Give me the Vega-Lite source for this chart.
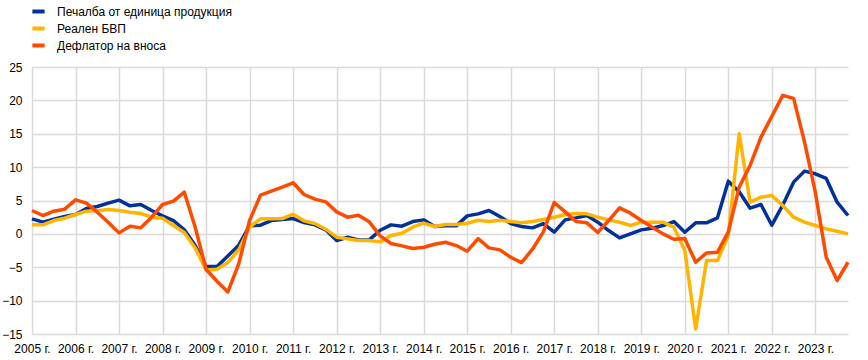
{
  "$schema": "https://vega.github.io/schema/vega-lite/v6.json",
  "width": 816,
  "height": 267,
  "autosize": {"type": "none"},
  "padding": {"left": 32, "top": 67, "right": 20, "bottom": 26},
  "background": "white",
  "config": {
    "view": {"stroke": null},
    "font": "Liberation Sans",
    "axis": {"labelFont": "Liberation Sans", "labelFontSize": 12, "labelColor": "#000000", "gridColor": "#d9d9d9", "gridWidth": 1.5, "ticks": false, "domain": false, "title": null}
  },
  "data": {
    "values": [
      {"t": 2005.00, "b": 2.25, "y": 1.35, "o": 3.5},
      {"t": 2005.25, "b": 1.75, "y": 1.35, "o": 2.75},
      {"t": 2005.50, "b": 2.2, "y": 2.0, "o": 3.4},
      {"t": 2005.75, "b": 2.6, "y": 2.35, "o": 3.7},
      {"t": 2006.00, "b": 2.9, "y": 2.9, "o": 5.1},
      {"t": 2006.25, "b": 3.8, "y": 3.4, "o": 4.6},
      {"t": 2006.50, "b": 4.1, "y": 3.45, "o": 3.25},
      {"t": 2006.75, "b": 4.6, "y": 3.65, "o": 1.75},
      {"t": 2007.00, "b": 5.05, "y": 3.5, "o": 0.15},
      {"t": 2007.25, "b": 4.2, "y": 3.25, "o": 1.15},
      {"t": 2007.50, "b": 4.4, "y": 3.05, "o": 0.9},
      {"t": 2007.75, "b": 3.5, "y": 2.5, "o": 2.5},
      {"t": 2008.00, "b": 2.7, "y": 2.35, "o": 4.4},
      {"t": 2008.25, "b": 2.0, "y": 1.25, "o": 4.9},
      {"t": 2008.50, "b": 0.6, "y": 0.2, "o": 6.25},
      {"t": 2008.75, "b": -1.75, "y": -2.1, "o": 1.0},
      {"t": 2009.00, "b": -4.9, "y": -5.4, "o": -5.3},
      {"t": 2009.25, "b": -4.9, "y": -5.3, "o": -7.1},
      {"t": 2009.50, "b": -3.3, "y": -4.3, "o": -8.7},
      {"t": 2009.75, "b": -1.7, "y": -2.4, "o": -4.5},
      {"t": 2010.00, "b": 1.2, "y": 1.0, "o": 2.0},
      {"t": 2010.25, "b": 1.3, "y": 2.25, "o": 5.8},
      {"t": 2010.50, "b": 2.0, "y": 2.25, "o": 6.4},
      {"t": 2010.75, "b": 2.15, "y": 2.3, "o": 7.0},
      {"t": 2011.00, "b": 2.3, "y": 2.95, "o": 7.65},
      {"t": 2011.25, "b": 1.7, "y": 1.95, "o": 5.9},
      {"t": 2011.50, "b": 1.35, "y": 1.55, "o": 5.2},
      {"t": 2011.75, "b": 0.6, "y": 0.7, "o": 4.8},
      {"t": 2012.00, "b": -1.0, "y": -0.5, "o": 3.3},
      {"t": 2012.25, "b": -0.5, "y": -0.75, "o": 2.5},
      {"t": 2012.50, "b": -0.9, "y": -1.0, "o": 2.8},
      {"t": 2012.75, "b": -0.9, "y": -1.0, "o": 1.8},
      {"t": 2013.00, "b": 0.55, "y": -1.2, "o": -0.3},
      {"t": 2013.25, "b": 1.35, "y": -0.25, "o": -1.45},
      {"t": 2013.50, "b": 1.15, "y": 0.1, "o": -1.8},
      {"t": 2013.75, "b": 1.85, "y": 1.0, "o": -2.2},
      {"t": 2014.00, "b": 2.1, "y": 1.6, "o": -2.0},
      {"t": 2014.25, "b": 1.1, "y": 1.1, "o": -1.55},
      {"t": 2014.50, "b": 1.2, "y": 1.4, "o": -1.25},
      {"t": 2014.75, "b": 1.2, "y": 1.4, "o": -1.75},
      {"t": 2015.00, "b": 2.7, "y": 1.6, "o": -2.6},
      {"t": 2015.25, "b": 3.0, "y": 2.05, "o": -0.7},
      {"t": 2015.50, "b": 3.5, "y": 1.85, "o": -2.1},
      {"t": 2015.75, "b": 2.6, "y": 2.05, "o": -2.4},
      {"t": 2016.00, "b": 1.55, "y": 1.85, "o": -3.5},
      {"t": 2016.25, "b": 1.1, "y": 1.65, "o": -4.3},
      {"t": 2016.50, "b": 0.9, "y": 1.85, "o": -2.3},
      {"t": 2016.75, "b": 1.55, "y": 2.15, "o": 0.3},
      {"t": 2017.00, "b": 0.25, "y": 2.5, "o": 4.7},
      {"t": 2017.25, "b": 2.1, "y": 2.9, "o": 3.3},
      {"t": 2017.50, "b": 2.4, "y": 3.05, "o": 1.85},
      {"t": 2017.75, "b": 2.75, "y": 3.0, "o": 1.65},
      {"t": 2018.00, "b": 1.75, "y": 2.5, "o": 0.2},
      {"t": 2018.25, "b": 0.5, "y": 2.1, "o": 2.0},
      {"t": 2018.50, "b": -0.6, "y": 1.75, "o": 3.9},
      {"t": 2018.75, "b": 0.0, "y": 1.25, "o": 3.1},
      {"t": 2019.00, "b": 0.6, "y": 1.75, "o": 2.0},
      {"t": 2019.25, "b": 0.85, "y": 1.75, "o": 1.0},
      {"t": 2019.50, "b": 1.25, "y": 1.75, "o": 0.0},
      {"t": 2019.75, "b": 1.85, "y": 1.0, "o": -0.8},
      {"t": 2020.00, "b": 0.25, "y": -2.5, "o": -0.7},
      {"t": 2020.25, "b": 1.65, "y": -14.25, "o": -4.25},
      {"t": 2020.50, "b": 1.65, "y": -4.0, "o": -2.85},
      {"t": 2020.75, "b": 2.4, "y": -4.0, "o": -2.75},
      {"t": 2021.00, "b": 7.9, "y": -0.25, "o": 0.3},
      {"t": 2021.25, "b": 6.3, "y": 15.0, "o": 7.0},
      {"t": 2021.50, "b": 3.85, "y": 4.75, "o": 10.25},
      {"t": 2021.75, "b": 4.4, "y": 5.5, "o": 14.5},
      {"t": 2022.00, "b": 1.3, "y": 5.75, "o": 17.6},
      {"t": 2022.25, "b": 4.3, "y": 4.25, "o": 20.75},
      {"t": 2022.50, "b": 7.75, "y": 2.5, "o": 20.3},
      {"t": 2022.75, "b": 9.4, "y": 1.75, "o": 13.8},
      {"t": 2023.00, "b": 9.0, "y": 1.25, "o": 6.2},
      {"t": 2023.25, "b": 8.3, "y": 0.75, "o": -3.5},
      {"t": 2023.50, "b": 4.75, "y": 0.4, "o": -7.0},
      {"t": 2023.75, "b": 2.75, "y": 0.0, "o": -4.25}
    ]
  },
  "transform": [
    {"fold": ["b", "y", "o"], "as": ["key", "value"]},
    {"lookup": "key", "from": {"data": {"values": [
      {"key": "b", "series": "Печалба от единица продукция"},
      {"key": "y", "series": "Реален БВП"},
      {"key": "o", "series": "Дефлатор на вноса"}
    ]}, "key": "key", "fields": ["series"]}}
  ],
  "mark": {"type": "line", "strokeWidth": 3.5, "strokeJoin": "round"},
  "encoding": {
    "x": {
      "field": "t", "type": "quantitative",
      "scale": {"domain": [2005, 2023.75], "nice": false, "zero": false},
      "axis": {"values": [2005,2006,2007,2008,2009,2010,2011,2012,2013,2014,2015,2016,2017,2018,2019,2020,2021,2022,2023], "format": "d", "labelExpr": "datum.label + ' г.'", "labelOverlap": false, "labelFlush": false, "labelPadding": 9, "grid": true}
    },
    "y": {
      "field": "value", "type": "quantitative",
      "scale": {"domain": [-15, 25], "nice": false},
      "axis": {"values": [-15,-10,-5,0,5,10,15,20,25], "labelPadding": 10, "grid": true}
    },
    "color": {
      "field": "series", "type": "nominal",
      "scale": {"domain": ["Печалба от единица продукция", "Реален БВП", "Дефлатор на вноса"], "range": ["#003299", "#FFB400", "#FF4B00"]},
      "legend": {"title": null, "orient": "none", "legendX": -2, "legendY": -64, "direction": "vertical", "padding": 0, "symbolType": "stroke", "symbolStrokeWidth": 4, "symbolSize": 150, "labelFont": "Liberation Sans", "labelFontSize": 12, "labelColor": "#000000", "labelOffset": 10, "labelLimit": 0, "rowPadding": 0}
    },
    "order": {"field": "t"}
  }
}
